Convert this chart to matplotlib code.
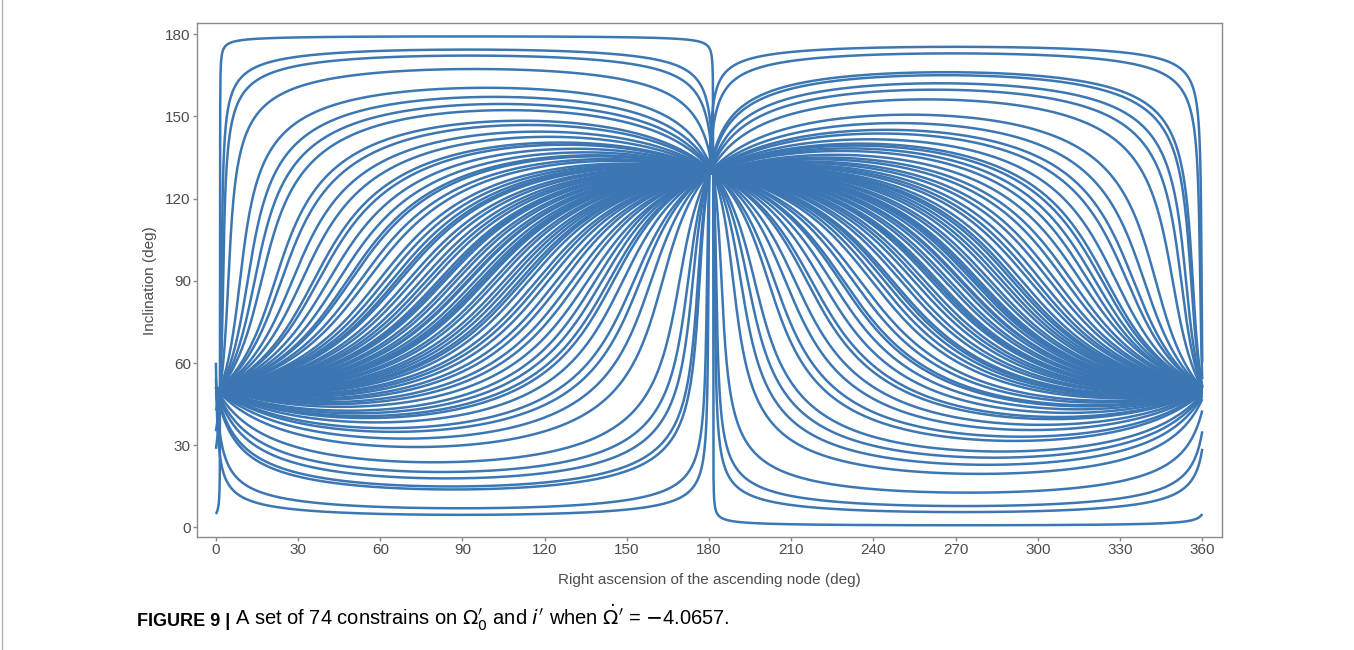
import numpy as np
import matplotlib.pyplot as plt
from matplotlib.lines import Line2D

# inclination (deg) each constraint curve passes through at RAAN ~ 92.7 deg (left half)
levels = [179.2, 174.4, 172.2, 167.3, 160.4, 157.0, 154.3, 151.9, 147.6, 145.8,
          142.8, 140.3, 137.3, 136.1, 133.6, 131.2, 128.1, 125.7, 123.9, 120.8,
          119.0, 117.2, 114.8, 112.3, 110.5, 108.1, 106.2, 104.4, 102.0, 99.6,
          97.1, 95.3, 92.8, 91.0, 90.4, 88.0, 86.2, 83.7, 81.3, 79.5,
          77.0, 75.2, 73.4, 70.3, 68.5, 66.0, 64.3, 62.4, 60.0, 58.2,
          55.7, 53.9, 51.5, 49.0, 47.2, 45.4, 44.2, 41.7, 38.7, 36.9,
          33.8, 30.2, 24.1, 20.4, 18.0, 15.0, 13.9, 7.0, 4.6,
          129.0, 115.8, 100.8, 84.9, 71.6]
read_at = 92.7

# common nodes of the curves (RAAN offset differs for upper / lower families)
node_inc = 50.5
node_raan_upper = 1.5
node_raan_lower = 0.15

xticks = list(range(0, 361, 30))
yticks = list(range(0, 181, 30))

color = '#3c77b3'
gray = '#8a8a8a'
tcol = '#4d4d4d'

plt.rcParams['font.family'] = ['Liberation Sans', 'DejaVu Sans']


def gfun(i):
    r = np.radians(i)
    return np.cos(r) / np.sin(r) ** 2


inc_tab = np.linspace(0.005, 179.995, 60000)
g_tab = gfun(inc_tab)

A = gfun(node_inc)
raan = np.linspace(0, 360, 3000)

fig = plt.figure(figsize=(13.54, 6.5), dpi=100)
ax = fig.add_axes([0.1455, 0.1738, 0.9025 - 0.1455, 0.9642 - 0.1738])

for lev in levels:
    d = node_raan_upper if lev > node_inc else node_raan_lower
    u = np.radians(raan - d)
    u0 = np.radians(read_at - d)
    k = (gfun(lev) - A * np.cos(u0)) / np.sin(u0)
    gv = A * np.cos(u) + k * np.sin(u)
    inc = np.interp(-gv, -g_tab, inc_tab)
    ax.plot(raan, inc, color=color, lw=1.8, solid_capstyle='butt')

ax.set_xlim(-6.9, 367.2)
ax.set_ylim(-3.5, 184)
ax.set_xticks(xticks)
ax.set_yticks(yticks)
for s in ax.spines.values():
    s.set_color(gray)
    s.set_linewidth(1.0)
ax.tick_params(direction='out', length=3, width=1, color=gray, labelcolor=tcol,
               labelsize=11, pad=1.5)
ax.set_xlabel('Right ascension of the ascending node (deg)', fontsize=11,
              color=tcol, labelpad=11)
ax.set_ylabel('Inclination (deg)', fontsize=11, color=tcol, labelpad=6)

fig.add_artist(Line2D([0.0015, 0.0015], [0.0, 1.0], color='#b0b0b0', lw=1))

t1 = fig.text(0.101, 0.037, 'FIGURE 9 |', fontsize=13, fontweight='bold',
              family=['Liberation Sans Narrow', 'Liberation Sans'], va='baseline')
fig.canvas.draw()
bb = t1.get_window_extent()
x2 = (bb.x1 + 5) / fig.bbox.width
fig.text(x2, 0.037, r"A set of 74 constrains on $\Omega_0^{\prime}$ and $i^{\prime}$ when "
         r"$\dot{\Omega}^{\prime}$ = $-$4.0657.", fontsize=14.5,
         family=['Liberation Sans'], va='baseline')

fig.savefig('out.png', dpi=100)
